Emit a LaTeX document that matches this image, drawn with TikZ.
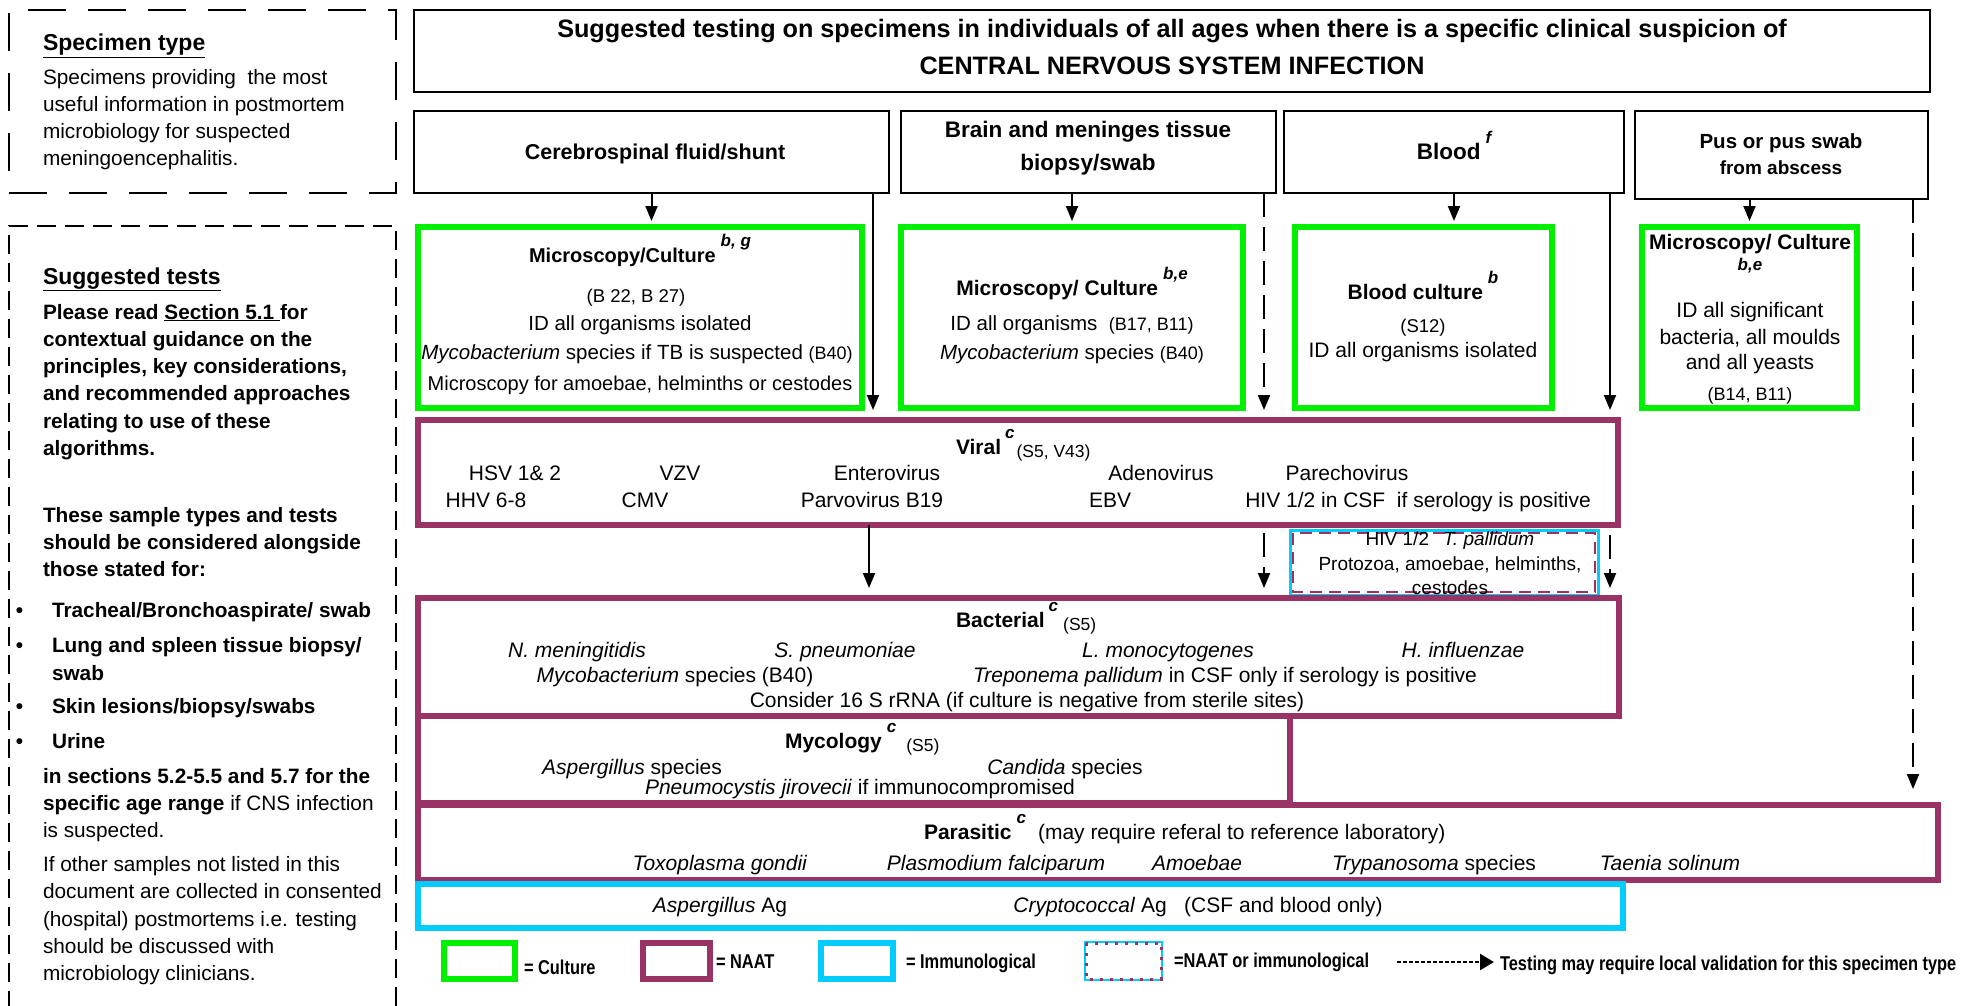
\documentclass[tikz,border=0pt]{standalone}
\usepackage{fontspec}
\setmainfont{Liberation Sans}
\newfontfamily\legfont[FakeStretch=0.82]{Liberation Sans}
\usetikzlibrary{arrows.meta}

\definecolor{cultgreen}{RGB}{0,240,0}
\definecolor{naat}{RGB}{153,51,102}
\definecolor{immuno}{RGB}{0,204,255}

\newcommand\fsz[1]{\fontsize{#1}{#1}\selectfont}
\newcommand\supx[1]{\raisebox{16pt}{\fsz{17}\bfseries\itshape #1}}
\newcommand\refx[1]{\raisebox{-3pt}{\fsz{17.5}\mdseries\upshape #1}}

\begin{document}
\begin{tikzpicture}[x=1pt,y=-1pt,
  every node/.style={inner sep=0pt,outer sep=0pt},
  frame/.style={draw=black,line width=2.2pt,anchor=north west},
  cult/.style={draw=cultgreen,line width=6pt,anchor=north west},
  naatbox/.style={draw=naat,line width=6pt,anchor=north west},
  immbox/.style={draw=immuno,line width=6pt,anchor=north west},
  ctr/.style={anchor=base,yshift=-7pt,font=\fsz{20.5}},
  row/.style={anchor=base,yshift=-7.5pt,font=\fsz{21}},
  hd/.style={anchor=base west,yshift=-7.5pt,font=\fsz{21}},
  ltxt/.style={anchor=base west,yshift=-7.5pt,font=\fsz{20.8}},
  lbold/.style={anchor=base west,yshift=-7.5pt,font=\fsz{20.8}\bfseries},
  lhead/.style={anchor=base west,yshift=-8pt,font=\fsz{23}\bfseries},
  arr/.style={line width=2pt,-{Triangle[length=15pt,width=12pt]},shorten >=6pt},
  darr/.style={arr,dash pattern=on 24pt off 10pt},
  lgtxt/.style={anchor=base west,yshift=-7pt,font=\legfont\fsz{20}\bfseries},
]
\useasboundingbox[fill=white] (0,0) rectangle (1966,1006);

% ---------- side notes ----------
\node[draw,line width=2.2pt,dash pattern=on 38pt off 22pt,anchor=north west,
      minimum width=387pt,minimum height=183pt] (spec) at (9,10) {};
\draw[line width=2.2pt,dash pattern=on 19pt off 9pt]
      (9,1010) -- (9,226) -- (396,226) -- (396,1010);

\node[lhead] (specH) at (43,43) {\underline{Specimen type}};
\foreach \yy/\tx [count=\i] in {77/{Specimens providing\ \ the most},
    104.5/{useful information in postmortem},
    131/{microbiology for suspected},
    158/{meningoencephalitis.}}
  \node[ltxt] (spec\i) at (43,\yy) {\tx};

\node[lhead] (testH) at (43,276) {\underline{Suggested tests}};
\foreach \yy/\tx [count=\i] in {311.5/{Please read \underline{Section 5.1\ }for},
    338.8/{contextual guidance on the},
    366/{principles, key considerations,},
    393.4/{and recommended approaches},
    420.7/{relating to use of these},
    448/{algorithms.},
    514.5/{These sample types and tests},
    542/{should be considered alongside},
    569/{those stated for:}}
  \node[lbold] (tst\i) at (43,\yy) {\tx};

\foreach \yy [count=\i] in {610,645,706,741}
  \node[lbold] (bul\i) at (16,\yy) {•};
\node[lbold] (it1) at (52,610) {Tracheal/Bronchoaspirate/ swab};
\node[lbold] (it2) at (52,645) {Lung and spleen tissue biopsy/};
\node[lbold] (it2b) at (52,672.5) {swab};
\node[lbold] (it3) at (52,706) {Skin lesions/biopsy/swabs};
\node[lbold] (it4) at (52,741) {Urine};

\node[lbold] (sec1) at (43,776) {in sections 5.2-5.5 and 5.7 for the};
\node[ltxt] (sec2) at (43,803) {\textbf{specific age range} if CNS infection};
\node[ltxt] (sec3) at (43,830) {is suspected.};
\foreach \yy/\tx [count=\i] in {864/{If other samples not listed in this},
    891/{document are collected in consented},
    919/{(hospital) postmortems i.e. testing},
    946/{should be discussed with},
    973/{microbiology clinicians.}}
  \node[ltxt] (oth\i) at (43,\yy) {\tx};

% ---------- title and specimen boxes ----------
\node[frame,minimum width=1516pt,minimum height=82pt] (title) at (414,10) {};
\node[font=\fontsize{25.2}{37}\selectfont\bfseries,align=center] (ttl) at (1172,47)
  {Suggested testing on specimens in individuals of all ages when there is a specific clinical suspicion of\\
   CENTRAL NERVOUS SYSTEM INFECTION};

\node[frame,minimum width=475pt,minimum height=82pt] (csf) at (414,111) {};
\node[frame,minimum width=375pt,minimum height=82pt] (brain) at (901,111) {};
\node[frame,minimum width=340pt,minimum height=82pt] (blood) at (1284,111) {};
\node[frame,minimum width=293pt,minimum height=88pt] (pus) at (1635,111) {};

\node[ctr,font=\fsz{21.5}\bfseries] (csfT) at (655,153) {Cerebrospinal fluid/shunt};
\node[ctr,font=\fsz{22.5}\bfseries] (brainT1) at (1088,131) {Brain and meninges tissue};
\node[ctr,font=\fsz{22.5}\bfseries] (brainT2) at (1088,164) {biopsy/swab};
\node[ctr,font=\fsz{22.5}\bfseries] (bloodT) at (1454,153) {Blood\hspace{5pt}\supx{f}};
\node[ctr,font=\fsz{20.5}\bfseries] (pusT1) at (1781,142) {Pus or pus swab};
\node[ctr,font=\fsz{19}\bfseries] (pusT2) at (1781,168) {from abscess};

% ---------- culture boxes ----------
\node[cult,minimum width=444pt,minimum height=181pt] (g1) at (418,227) {};
\node[cult,minimum width=342pt,minimum height=181pt] (g2) at (901,227) {};
\node[cult,minimum width=257pt,minimum height=181pt] (g3) at (1295,227) {};
\node[cult,minimum width=215pt,minimum height=181pt] (g4) at (1642,227) {};

\node[ctr,font=\fsz{20}] (g1a) at (640,255) {\textbf{Microscopy/Culture}\hspace{5pt}\supx{b, g}};
\node[ctr,font=\fsz{18.5}] (g1b) at (636,295) {(B 22, B 27)};
\node[ctr] (g1c) at (640,323) {ID all organisms isolated};
\node[ctr] (g1d) at (637,352) {\textit{Mycobacterium} species if TB is suspected {\fsz{18}(B40)}};
\node[ctr,font=\fsz{20}] (g1e) at (640,383) {Microscopy for amoebae, helminths or cestodes};

\node[ctr,font=\fsz{21}] (g2a) at (1072,288) {\textbf{Microscopy/ Culture}\hspace{5pt}\supx{b,e}};
\node[ctr] (g2b) at (1072,323) {ID all organisms\ \ {\fsz{18}(B17, B11)}};
\node[ctr] (g2c) at (1072,352) {\textit{Mycobacterium} species {\fsz{18}(B40)}};

\node[ctr,font=\fsz{21}] (g3a) at (1423,292) {\textbf{Blood culture}\hspace{5pt}\supx{b}};
\node[ctr,font=\fsz{18.5}] (g3b) at (1423,325) {(S12)};
\node[ctr,font=\fsz{21}] (g3c) at (1423,350) {ID all organisms isolated};

\node[ctr,font=\fsz{21}\bfseries] (g4a) at (1750,242) {Microscopy/ Culture};
\node[ctr,font=\fsz{17}\bfseries\itshape] (g4b) at (1750,263) {b,e};
\node[ctr,font=\fsz{21}] (g4c) at (1750,310) {ID all significant};
\node[ctr,font=\fsz{21}] (g4d) at (1750,337) {bacteria, all moulds};
\node[ctr,font=\fsz{21}] (g4e) at (1750,362) {and all yeasts};
\node[ctr,font=\fsz{18}] (g4f) at (1750,393) {(B14, B11)};

% ---------- NAAT and immunological boxes ----------
\node[naatbox,minimum width=1200pt,minimum height=105pt] (viral) at (418,420) {};
\node[draw=immuno,line width=3pt,anchor=north west,minimum width=308pt,minimum height=65pt] (dual) at (1290,530) {};
\draw[naat,line width=2.5pt,dash pattern=on 12pt off 7pt]
  ([shift={(3pt,-3pt)}]dual.north west) rectangle ([shift={(-3pt,3pt)}]dual.south east);
\node[naatbox,minimum width=1201pt,minimum height=118pt] (bact) at (418,598) {};
\node[naatbox,minimum width=872pt,minimum height=87pt] (myco) at (418,716) {};
\node[naatbox,minimum width=1520pt,minimum height=75pt] (para) at (418,805) {};
\node[immbox,minimum width=1205pt,minimum height=44pt] (imm) at (418,884) {};

% viral
\node[hd] (vH) at (956,447) {\textbf{Viral}\hspace{4pt}\supx{c}\hspace{2pt}\refx{(S5, V43)}};
\node[row] (v1) at (515,473) {HSV 1\& 2};
\node[row] (v2) at (680,473) {VZV};
\node[row] (v3) at (887,473) {Enterovirus};
\node[row] (v4) at (1161,473) {Adenovirus};
\node[row] (v5) at (1347,473) {Parechovirus};
\node[row] (v6) at (486,500) {HHV 6-8};
\node[row] (v7) at (645,500) {CMV};
\node[row] (v8) at (872,500) {Parvovirus B19};
\node[row] (v9) at (1110,500) {EBV};
\node[row] (v10) at (1418,500) {HIV 1/2 in CSF\ \ if serology is positive};

% NAAT or immunological
\node[row,font=\fsz{19}] (d1) at (1450,538) {HIV 1/2\hspace{14pt}\textit{T. pallidum}};
\node[row,font=\fsz{19}] (d2) at (1450,563) {Protozoa, amoebae, helminths,};
\node[row,font=\fsz{19}] (d3) at (1450,587) {cestodes};

% bacterial
\node[hd] (bH) at (956,620) {\textbf{Bacterial}\hspace{4pt}\supx{c}\hspace{5pt}\refx{(S5)}};
\node[row] (b1) at (577,650) {\textit{N. meningitidis}};
\node[row] (b2) at (845,650) {\textit{S. pneumoniae}};
\node[row] (b3) at (1168,650) {\textit{L. monocytogenes}};
\node[row] (b4) at (1463,650) {\textit{H. influenzae}};
\node[row] (b5) at (675,675) {\textit{Mycobacterium} species (B40)};
\node[row] (b6) at (1225,675) {\textit{Treponema pallidum} in CSF only if serology is positive};
\node[row] (b7) at (1027,700) {Consider 16 S rRNA (if culture is negative from sterile sites)};

% mycology
\node[hd] (mH) at (785,741) {\textbf{Mycology}\hspace{5pt}\supx{c}\hspace{10pt}\refx{(S5)}};
\node[row] (m1) at (632,767) {\textit{Aspergillus} species};
\node[row] (m2) at (1065,767) {\textit{Candida} species};
\node[row] (m3) at (860,787) {\textit{Pneumocystis jirovecii} if immunocompromised};

% parasitic
\node[hd] (pH) at (924,832) {\textbf{Parasitic}\hspace{5pt}\supx{c}\hspace{12pt}(may require referal to reference laboratory)};
\node[row] (p1) at (720,863) {\textit{Toxoplasma gondii}};
\node[row] (p2) at (996,863) {\textit{Plasmodium falciparum}};
\node[row] (p3) at (1197,863) {\textit{Amoebae}};
\node[row] (p4) at (1434,863) {\textit{Trypanosoma} species};
\node[row] (p5) at (1670,863) {\textit{Taenia solinum}};

% immunological
\node[row] (i1) at (720,905) {\textit{Aspergillus} Ag};
\node[row] (i2) at (1198,905) {\textit{Cryptococcal} Ag\ \ \ (CSF and blood only)};

% ---------- connectors ----------
\draw[arr] (csf.south) -- (csf.south |- g1.north);
\coordinate (csfR) at ([xshift=-16pt]csf.south east);
\draw[arr,shorten >=10pt] (csfR) -- (csfR |- viral.north);
\draw[arr] (g2.north |- brain.south) -- (g2.north);
\coordinate (brainR) at ([xshift=-12pt]brain.south east);
\draw[darr,shorten >=10pt] (brainR) -- (brainR |- viral.north);
\draw[arr] (blood.south) -- (blood.south |- g3.north);
\coordinate (bloodR) at ([xshift=-14pt]blood.south east);
\draw[arr,shorten >=10pt] (bloodR) -- (bloodR |- viral.north);
\draw[arr] (g4.north |- pus.south) -- (g4.north);
\coordinate (pusR) at ([xshift=-15pt]pus.south east);
\draw[darr,shorten >=16pt] (pusR) -- (pusR |- para.north);

\coordinate (vb) at ([xshift=451pt]viral.south west);
\draw[arr,shorten >=10pt] (vb) -- (vb |- bact.north);
\coordinate (vl) at (brainR |- viral.south);
\draw[darr,shorten <=8pt,shorten >=10pt] (vl) -- (vl |- bact.north);
\coordinate (vr) at (bloodR |- viral.south);
\draw[darr,shorten <=10pt,shorten >=10pt] (vr) -- (vr |- bact.north);

% ---------- legend ----------
\node[cult,minimum width=71pt,minimum height=36pt] (lg1) at (444,943) {};
\node[lgtxt] (lt1) at (524,967) {= Culture};
\node[naatbox,minimum width=67pt,minimum height=36pt] (lg2) at (643,943) {};
\node[lgtxt] (lt2) at (716,961) {= NAAT};
\node[immbox,minimum width=72pt,minimum height=36pt] (lg3) at (821,943) {};
\node[lgtxt] (lt3) at (906,961) {= Immunological};
\node[draw=immuno,line width=1.5pt,anchor=north west,minimum width=77pt,minimum height=38pt] (lg4) at (1085,942) {};
\draw[naat,line width=3pt,dash pattern=on 3pt off 7pt]
  ([shift={(1pt,-1pt)}]lg4.north west) rectangle ([shift={(-1pt,1pt)}]lg4.south east);
\node[lgtxt] (lt4) at (1174,960) {=NAAT or immunological};
\coordinate (lga) at (1397,962);
\coordinate (lgb) at (1494,962);
\draw[line width=2.5pt,dash pattern=on 4pt off 2pt,-{Triangle[length=14pt,width=16pt]}] (lga) -- (lgb);
\node[lgtxt] (lt5) at (1500,963) {Testing may require local validation for this specimen type};
\end{tikzpicture}
\end{document}
